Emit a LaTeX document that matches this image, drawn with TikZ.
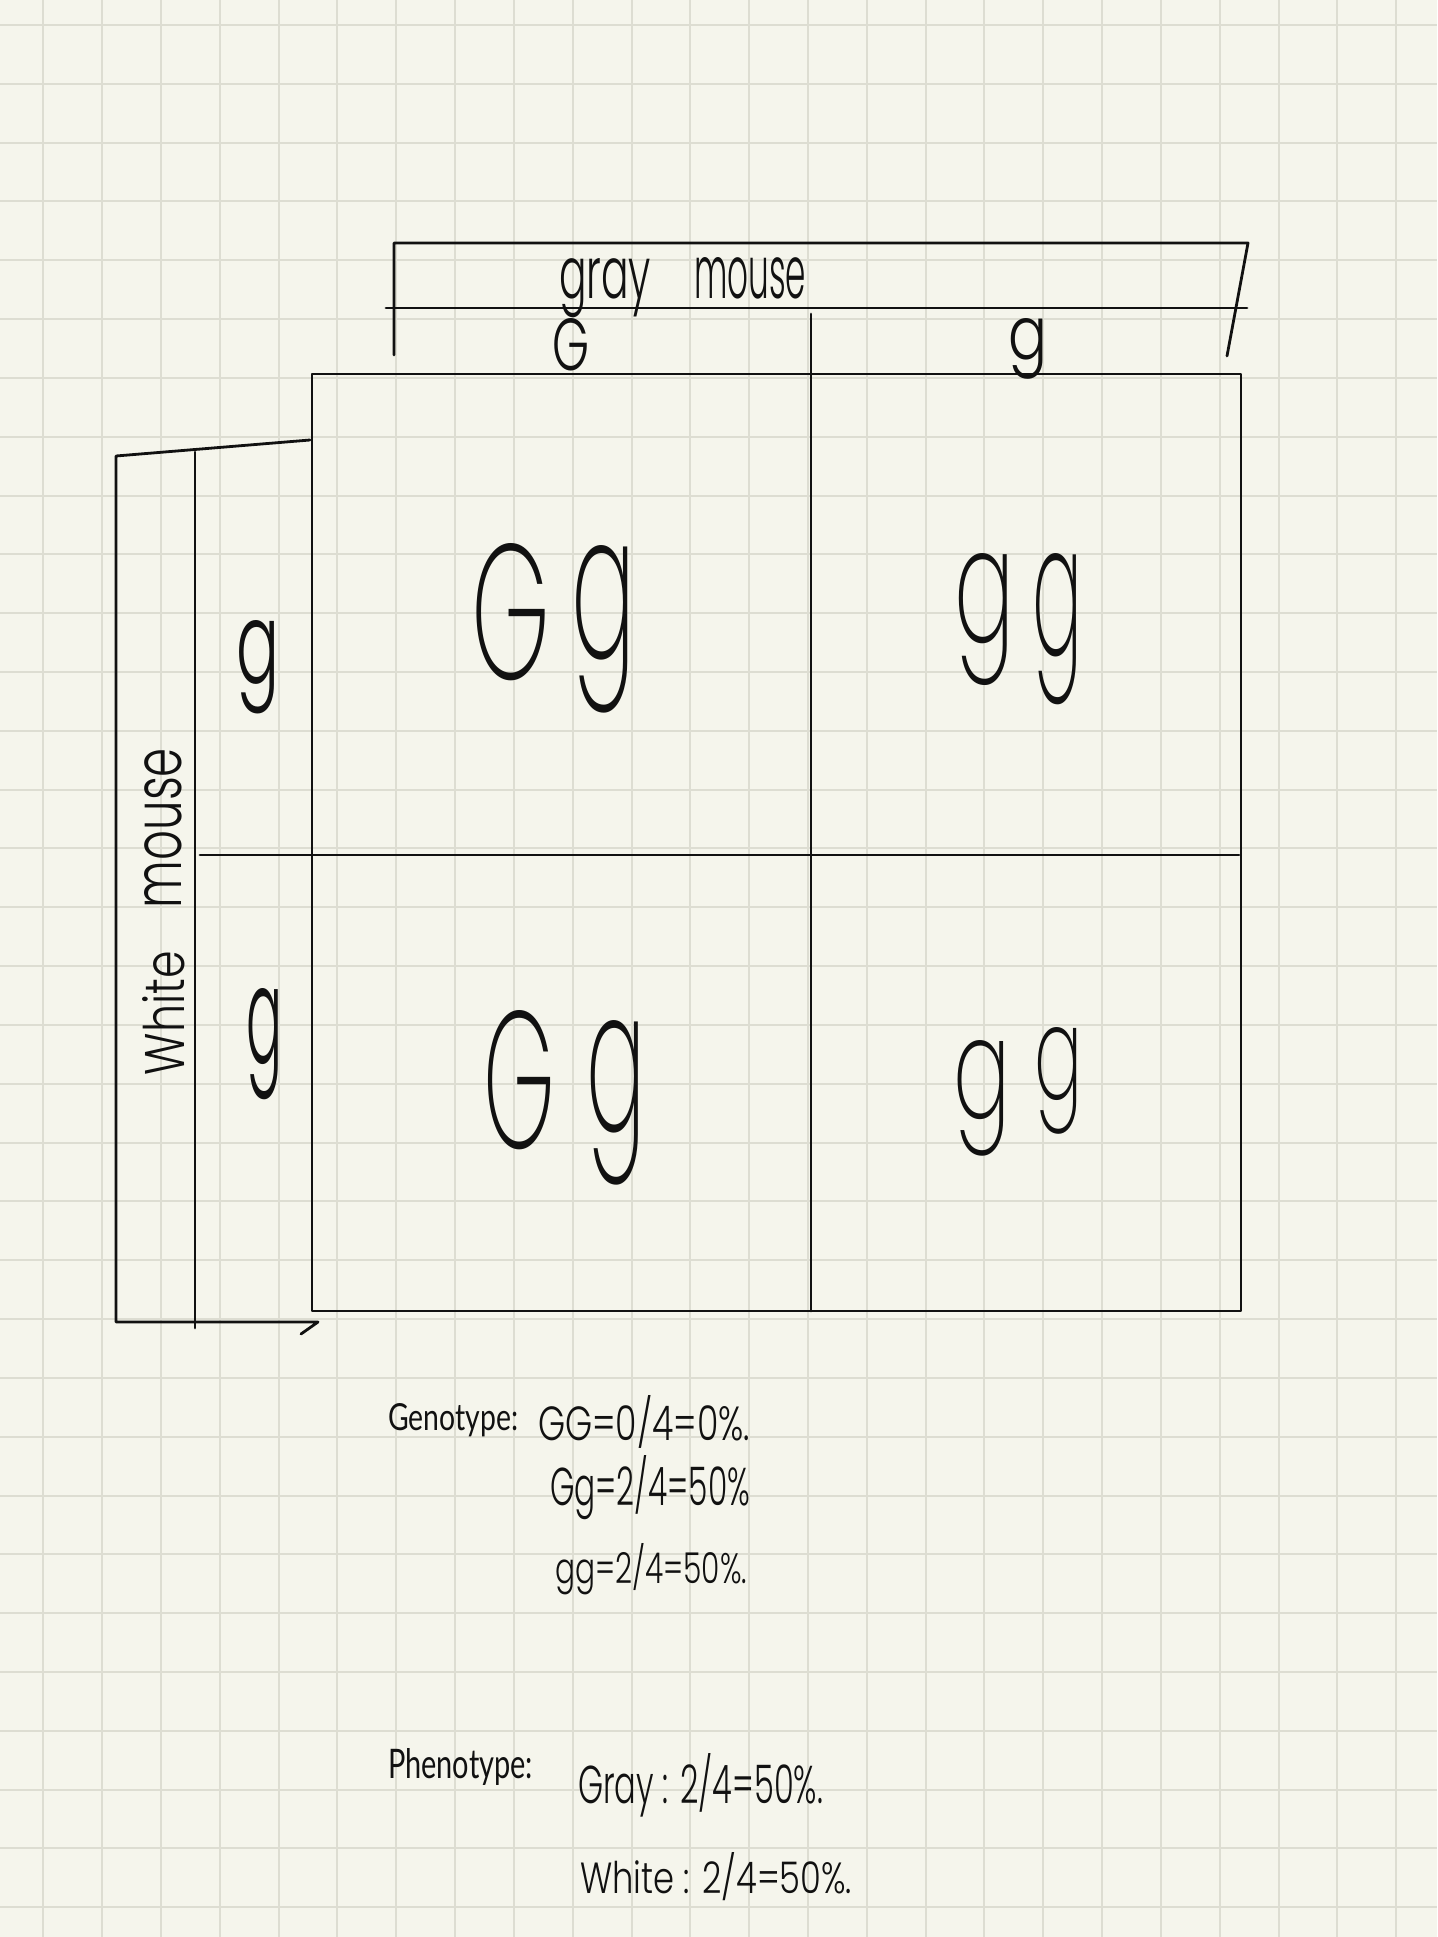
\documentclass[tikz,border=0pt]{standalone}
\usepackage{fontspec}
\usepackage{graphicx}
\newfontfamily\hand{Poppins Light}
\newfontfamily\handthin{Poppins ExtraLight}
\newfontfamily\printf{Lato}
\definecolor{paper}{RGB}{245,245,236}
\definecolor{gridc}{RGB}{221,221,210}
\definecolor{ink}{RGB}{17,17,17}
\newcommand\fitbox[3]{\resizebox{#1pt}{#2pt}{#3}}
\begin{document}
\begin{tikzpicture}[x=1pt,y=-1pt,
  inkline/.style={draw=ink, line width=2.8pt, line cap=round, line join=round},
  gridline/.style={draw=gridc, line width=2pt},
  hw/.style={inner sep=0pt, outer sep=0pt, anchor=base west, font=\hand, text=ink},
  glyph/.style={hw, anchor=base},
  big/.style={glyph, font=\handthin},
  pr/.style={hw, font=\printf}]
\fill[paper] (0,0) rectangle (1437,1937);
\useasboundingbox (0,0) rectangle (1437,1937);
\foreach \i in {0,...,23} \draw[gridline] ({43.3+58.82*\i},0) -- ({43.3+58.82*\i},1937);
\foreach \j in {0,...,32} \draw[gridline] (0,{25+58.82*\j}) -- (1437,{25+58.82*\j});
% Punnett square
\coordinate (sqNW) at (312,374);
\coordinate (sqSE) at (1241,1311);
\draw[inkline] (sqNW) rectangle (sqSE);
\coordinate (midT) at (811,314);
\coordinate (midB) at (811,1311);
\draw[inkline] (midT) -- (midB);
\coordinate (midL) at (200,855);
\coordinate (midR) at (1239,855);
\draw[inkline] (midL) -- (midR);
% top header
\coordinate (hA) at (394,355);
\coordinate (hB) at (394,243);
\coordinate (hC) at (1248,243);
\coordinate (hD) at (1227,356);
\draw[inkline] (hA) -- (hB) -- (hC) -- (hD);
\coordinate (hL) at (386,308);
\coordinate (hR) at (1247,308);
\draw[inkline] (hL) -- (hR);
% left header
\coordinate (vA) at (310,440);
\coordinate (vB) at (116,456);
\coordinate (vC) at (116,1322);
\coordinate (vD) at (318,1322);
\coordinate (vE) at (301,1334);
\draw[inkline] (vA) -- (vB) -- (vC) -- (vD) -- (vE);
\coordinate (vT) at (195,452);
\coordinate (vBt) at (195,1328);
\draw[inkline] (vT) -- (vBt);
% labels
\node[hw] (gray) at (559,298) {\fitbox{92}{40}{gray}};
\node[hw] (mouseT) at (694,298) {\fitbox{112}{41}{mouse}};
\node[glyph] (colG) at (571,370) {\fitbox{37}{52}{G}};
\node[glyph] (colg) at (1027.5,359) {\fitbox{39}{41}{g}};
\node[glyph] (rowgA) at (257.5,683) {\fitbox{43}{63}{g}};
\node[glyph] (rowgB) at (264,1063) {\fitbox{36}{75}{g}};
\node[hw, rotate=90] (white) at (184,1075) {\fitbox{124}{42}{White}};
\node[hw, rotate=90] (mouseL) at (181,908) {\fitbox{160}{37}{mouse}};
% cells
\node[big] (cAAG) at (511,679) {\fitbox{79}{136}{G}};
\node[big] (cAAg) at (603.5,658) {\fitbox{64}{113}{g}};
\node[big] (cABa) at (985,642) {\fitbox{60}{89}{g}};
\node[big] (cABb) at (1057.5,655) {\fitbox{50}{102}{g}};
\node[big] (cBAG) at (519.5,1148) {\fitbox{72}{138}{G}};
\node[big] (cBAg) at (616.5,1131) {\fitbox{59}{111}{g}};
\node[big] (cBBa) at (982.5,1118) {\fitbox{57}{78}{g}};
\node[big] (cBBb) at (1058.5,1099) {\fitbox{48}{72}{g}};
% results
\node[pr] (geno) at (388,1430) {\fitbox{130}{27}{Genotype:}};
\node[hw] (gGG) at (538,1440) {\fitbox{212}{45}{GG=0/4=0\%.}};
\node[hw] (gGg) at (550,1505) {\fitbox{200}{50}{Gg=2/4=50\%}};
\node[hw] (ggg) at (555,1583) {\fitbox{192}{40}{gg=2/4=50\%.}};
\node[pr] (pheno) at (388,1778) {\fitbox{145}{30}{Phenotype:}};
\node[hw] (pGray) at (578,1803) {\fitbox{245}{50}{Gray : 2/4=50\%.}};
\node[hw] (pWhite) at (580,1893) {\fitbox{272}{41}{White : 2/4=50\%.}};
\end{tikzpicture}
\end{document}
